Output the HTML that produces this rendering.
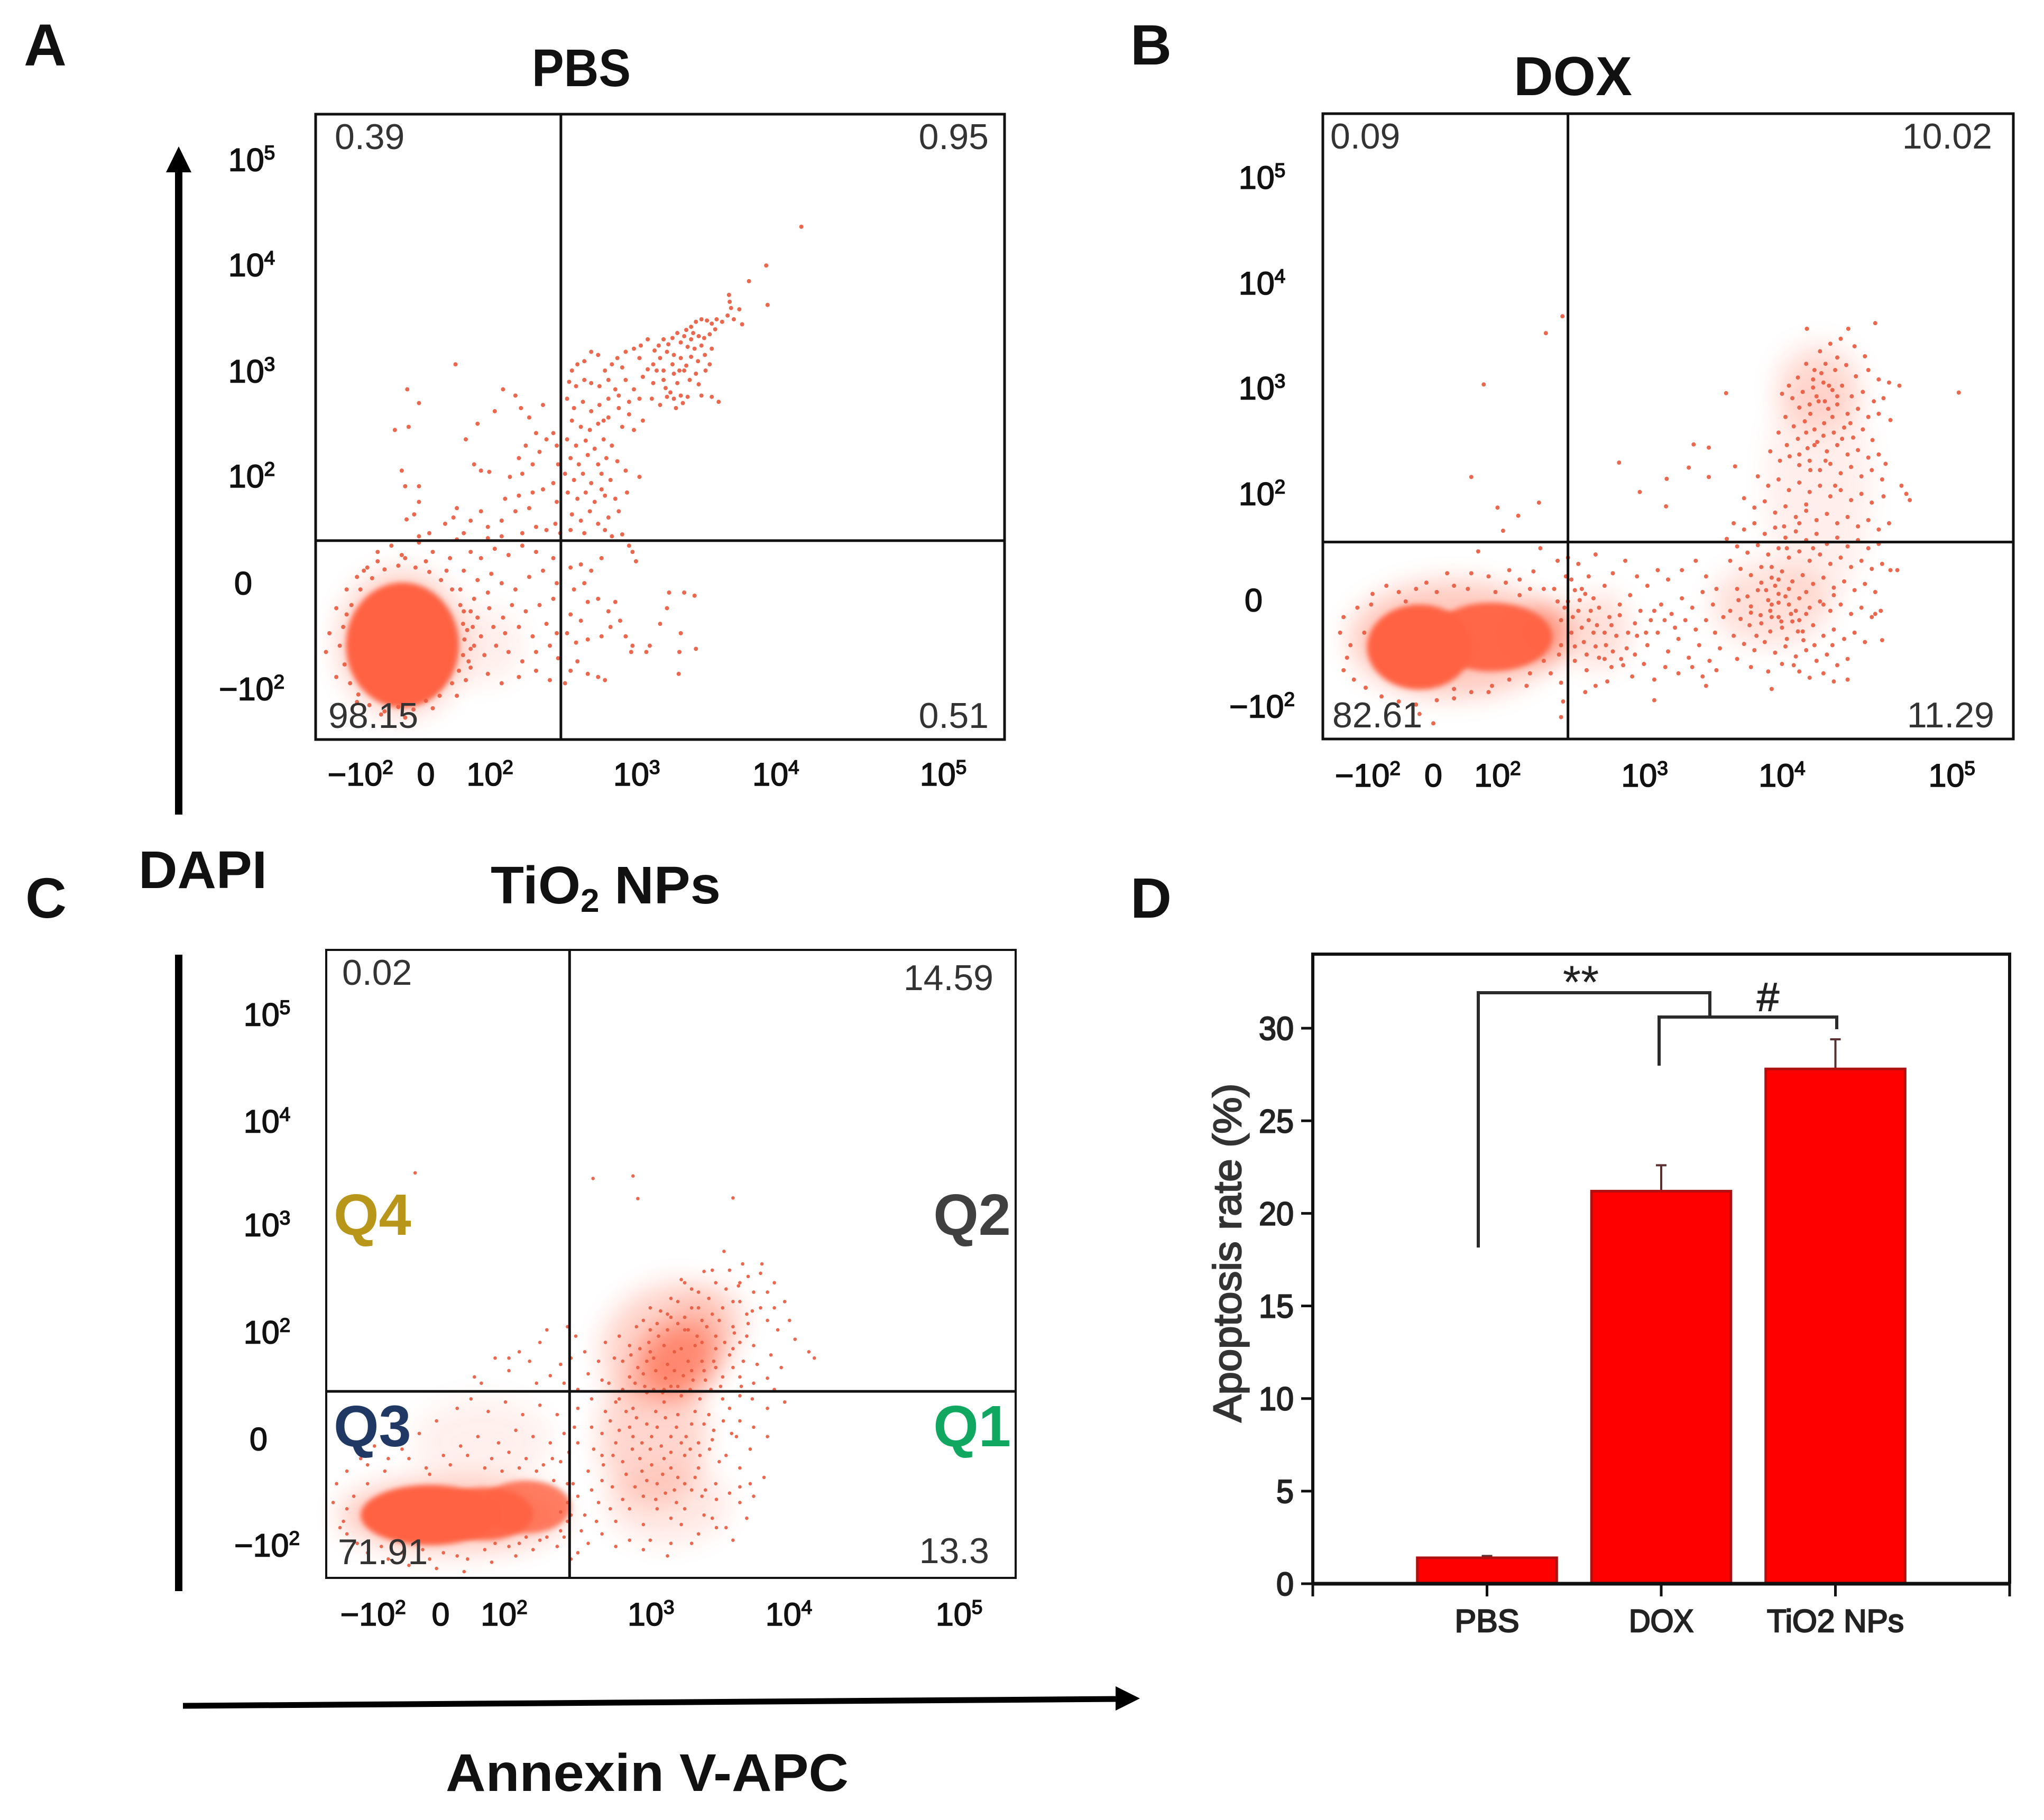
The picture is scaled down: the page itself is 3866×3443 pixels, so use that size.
<!DOCTYPE html>
<html lang="en">
<head>
<meta charset="utf-8">
<title>Flow cytometry apoptosis panels</title>
<style>
html,body{margin:0;padding:0;background:#fff}
svg{display:block}
text{font-family:"Liberation Sans",sans-serif}
</style>
</head>
<body>
<svg id="figure" xmlns="http://www.w3.org/2000/svg" width="3866" height="3443" viewBox="0 0 3866 3443">
<defs>
<filter id="soft" x="-30%" y="-30%" width="160%" height="160%"><feGaussianBlur stdDeviation="5"/></filter>
<filter id="diffuse" x="-60%" y="-60%" width="220%" height="220%"><feGaussianBlur stdDeviation="24"/></filter>
</defs>
<rect width="3866" height="3443" fill="#fff"/>
<text x="45" y="124" font-size="112" font-weight="bold" fill="#111">A</text>
<text x="2138" y="122" font-size="108" font-weight="bold" fill="#111">B</text>
<text x="48" y="1736" font-size="108" font-weight="bold" fill="#111">C</text>
<text x="2138" y="1736" font-size="108" font-weight="bold" fill="#111">D</text>
<text x="1006" y="163" font-size="100" font-weight="bold" fill="#111" textLength="187" lengthAdjust="spacingAndGlyphs">PBS</text>
<text x="2863" y="180" font-size="104" font-weight="bold" fill="#111" textLength="224" lengthAdjust="spacingAndGlyphs">DOX</text>
<text x="928" y="1709" font-size="100" font-weight="bold" fill="#111" textLength="435" lengthAdjust="spacingAndGlyphs">TiO<tspan font-size="62" dy="16">2</tspan><tspan dy="-16"> NPs</tspan></text>
<text x="262" y="1680" font-size="100" font-weight="bold" fill="#111" textLength="243" lengthAdjust="spacingAndGlyphs">DAPI</text>
<text x="843" y="3388" font-size="100" font-weight="bold" fill="#111" textLength="762" lengthAdjust="spacingAndGlyphs">Annexin V-APC</text>
<g>
<line x1="338" y1="1541" x2="338" y2="310" stroke="#000" stroke-width="14"/>
<polygon points="338,277 314,326 362,326" fill="#000"/>
</g>
<line x1="338" y1="1806" x2="338" y2="3010" stroke="#000" stroke-width="14"/>
<g>
<line x1="346" y1="3227" x2="2120" y2="3214" stroke="#000" stroke-width="11"/>
<polygon points="2156,3213 2110,3190 2110,3236" fill="#000"/>
</g>
<g id="panels"></g>
<g id="bars"></g>
<g fill="none" stroke="#2b2b2b" stroke-width="6">
<path d="M2796 2360V1878H3234V1922"/>
<path d="M3138 2016V1924H3474V1947"/>
</g>
<text x="2990" y="1888" font-size="88" text-anchor="middle" fill="#222">**</text>
<text x="3344" y="1912" font-size="76" text-anchor="middle" fill="#222" stroke="#222" stroke-width="1.5">#</text>
<text transform="translate(2347,2370) rotate(-90)" font-size="74" text-anchor="middle" fill="#333" stroke="#333" stroke-width="2.4" textLength="641" lengthAdjust="spacingAndGlyphs">Apoptosis rate (%)</text>
</svg>
<script>
// Flow panel data: event coordinates are in channel units (0-1000 on each axis).
const tickLabelsX = ['−10^2','0','10^2','10^3','10^4','10^5'];
const tickLabelsY = ['10^5','10^4','10^3','10^2','0','−10^2'];
const xTicksA = [65,160,253,466,668,911];
const yTicksA = [926,758,588,420,249,80];
const xTicksB = [65,160,253,466,665,911];
const yTicksB = [897,728,560,391,221,51];
const xTicksC = [68,166,258,471,671,918];
const yTicksC = [896,726,561,390,220,51];
const gateA = [356,318];
const gateB = [355,315];
const gateC = [353,297];
const quadValuesA = ['0.39','0.95','98.15','0.51'];
const quadValuesB = ['0.09','10.02','82.61','11.29'];
const quadValuesC = ['0.02','14.59','71.91','13.3'];
// clusters: cx, cy, rx, ry, tilt (deg), density (0-1), all in channel units
const clustersA = [[125,155,92,115,0,0.3],[240,150,60,60,0,0.1],[126,151,82,100,0,1]];
const clustersB = [[189,160,150,92,0,0.35],[399,173,45,60,0,0.2],[649,216,85,65,0,0.2],[718,406,75,190,0,0.1],[718,561,60,70,0,0.2],[320,170,40,45,0,0.6],[140,147,76,68,0,1],[244,163,88,55,0,0.95]];
const clustersC = [[183,100,165,60,0,0.32],[226,217,100,70,0,0.09],[495,118,90,62,0,0.14],[474,226,78,112,0,0.26],[495,375,100,90,-30,0.28],[560,414,50,50,0,0.15],[510,350,58,55,-30,0.65],[290,113,65,42,0,0.8],[150,100,100,48,0,1],[230,102,70,42,0,0.95]];
const eventsA = [[705,820],[654,758],[629,733],[600,711],[601,700],[603,690],[656,695],[598,678],[615,688],[619,664],[607,672],[590,668],[582,672],[575,665],[568,670],[560,672],[552,668],[545,660],[538,655],[548,650],[556,645],[564,642],[572,648],[580,656],[545,640],[535,645],[530,635],[540,628],[550,625],[560,630],[525,650],[518,642],[512,632],[505,640],[498,630],[492,622],[510,620],[520,615],[530,610],[545,612],[555,605],[565,615],[575,625],[572,600],[500,610],[490,600],[482,592],[470,610],[462,625],[472,630],[482,640],[450,620],[438,610],[445,595],[430,600],[420,590],[410,615],[400,620],[390,605],[380,600],[372,590],[368,572],[378,565],[390,575],[400,570],[412,565],[425,575],[435,560],[450,575],[462,560],[475,580],[490,570],[505,590],[520,585],[535,590],[525,570],[515,555],[520,545],[530,550],[510,548],[540,548],[560,550],[575,548],[585,540],
[528,590],[538,598],[552,585],[518,600],[505,575],[495,590],[543,575],[556,568],[566,590],[508,562],[523,530],[533,538],[500,535],[488,545],[470,545],[455,540],[440,550],[425,545],[418,510],[445,500],[462,495],[475,510],[438,445],[450,430],[470,420],[452,395],[415,400],
[365,545],[375,530],[388,540],[400,525],[412,535],[372,510],[385,500],[398,495],[410,505],[425,515],[440,530],[455,520],[365,480],[378,470],[392,478],[405,465],[418,480],[430,470],[370,450],[382,440],[395,455],[410,440],[422,450],[362,425],[375,415],[388,425],[400,410],[415,425],[428,415],[366,395],[380,385],[392,395],[405,380],[420,390],[435,385],[372,360],[385,350],[398,365],[410,345],[425,355],[440,365],[370,335],[390,330],[420,335],[445,328],[430,325],
[203,600],[133,560],[150,538],[115,495],[135,500],[125,430],[150,405],[130,405],[150,380],[132,352],[143,360],[188,345],[200,355],[205,370],[215,330],[230,440],[240,430],[252,428],[218,480],[235,505],[260,525],[272,560],[290,550],[298,530],[310,515],[330,535],[320,490],[305,470],[295,450],[315,440],[325,460],[335,480],[345,490],[350,470],[300,425],[282,420],[275,385],[295,390],[315,395],[330,400],[345,410],[352,440],[350,380],[310,370],[290,365],[270,350],[250,340],[240,365],[225,350],[300,330],[320,340],[335,335],[348,345],[355,330],[250,322],[270,325],[150,325],[165,330],
[370,275],[385,280],[400,270],[415,290],[460,300],[455,310],[465,285],[375,240],[390,250],[410,225],[425,205],[435,220],[442,190],[428,180],[395,220],[370,200],[385,190],[365,170],[378,155],[395,160],[415,165],[450,165],[460,150],[458,140],[480,140],[485,150],[500,185],[510,210],[513,235],[535,235],[550,230],[530,170],[528,140],[552,145],[527,105],[380,125],[395,105],[410,100],[420,95],[370,110],[362,90],
[205,320],[225,300],[240,290],[260,305],[280,295],[300,310],[320,300],[345,290],[215,270],[235,255],[255,265],[210,240],[230,225],[250,235],[270,250],[290,240],[310,260],[330,270],[350,250],[215,205],[235,195],[252,210],[272,195],[285,215],[305,205],[325,215],[345,225],[220,175],[240,165],[258,180],[275,170],[295,180],[315,165],[335,185],[350,170],[225,145],[245,135],[262,150],[280,140],[300,125],[320,140],[340,150],[352,130],[225,115],[250,105],[270,90],[295,100],[320,110],[340,95],
[20,170],[15,140],[30,210],[45,240],[70,270],[90,300],[110,310],[130,290],[150,315],[170,300],[190,270],[60,60],[95,40],[130,35],[170,50],[205,70],[30,100],
[40,180],[35,150],[42,120],[50,90],[62,72],[78,55],[100,45],[120,52],[142,48],[160,62],[180,70],[198,90],[208,110],[214,135],[216,160],[214,185],[210,215],[198,240],[182,255],[165,268],[145,275],[120,278],[100,272],[82,258],[65,240],[52,215],[45,200],[90,285],[125,295],[160,285],[195,290],[75,275],[60,260],[225,205],[228,180],[230,150],[222,125],[218,95]];
const eventsB = [[701,656],[800,665],[761,656],[921,554],[584,553],[347,676],[323,649],[233,567],[215,419],[253,370],[313,378],[283,357],[261,333],[429,442],[459,395],[498,416],[497,372],[530,434],[537,471],[559,466],[559,419],[597,436],
[750,640],[735,632],[720,620],[770,628],[785,612],[745,610],[700,600],[712,590],[728,600],[742,590],[758,598],[772,580],[790,590],[805,575],[820,570],[835,565],[688,578],[675,565],[665,552],[680,545],[695,555],[710,562],[725,570],[738,558],[752,565],[766,548],[782,555],[798,540],[812,545],[690,530],[705,535],[718,540],[732,528],[745,535],[760,520],[775,528],[790,515],[805,520],[822,510],[670,515],[682,500],[698,508],[712,495],[726,505],[740,490],[755,498],[768,482],[782,495],[796,478],[660,490],[672,470],[688,480],[702,465],[716,475],[730,460],[745,470],[760,455],[775,462],[790,450],[805,455],[815,440],[648,460],[662,445],[676,452],[690,438],[705,445],[720,430],[735,440],[750,425],[765,435],[780,420],[795,430],[810,415],[630,420],[645,405],[660,415],[675,398],[690,410],[705,395],[720,405],[735,388],[750,398],[765,382],[780,392],[795,378],[812,388],[838,405],[845,392],[850,382],[610,385],[625,370],[640,380],[655,362],[670,372],[685,355],[700,365],[715,350],[730,360],[745,345],[760,355],[775,340],[790,350],[805,335],[820,345],[595,345],[610,335],[625,345],[640,328],[655,338],[670,322],[685,332],[700,318],[715,328],[730,312],[745,322],[760,308],[775,318],[790,305],[805,312],[585,320],[600,308],[615,298],[630,310],[645,295],[660,305],[675,290],[690,300],[705,285],[720,295],[735,280],[750,290],[765,275],[780,285],[795,272],[810,280],[822,270],[832,270],[590,285],[605,272],[620,262],[635,275],[650,258],[665,268],[680,252],[695,262],[710,248],[725,258],[740,242],[755,252],[770,238],[785,248],[800,235],[600,240],[615,228],[630,238],[645,222],[660,232],[675,215],[690,225],[705,210],[720,220],[735,205],[750,215],[765,200],[780,210],[795,195],[808,205],[590,205],[605,192],[620,202],[635,185],[650,195],[665,178],[680,188],[695,172],[710,182],[725,165],[740,175],[755,160],[770,170],[785,155],[800,200],[810,158],[595,165],[610,152],[625,142],[640,155],[655,138],[670,148],[685,132],[700,142],[715,125],[730,135],[745,118],[760,128],[600,128],[620,115],[645,108],[665,120],[690,108],[705,98],[725,105],[740,92],[650,80],[555,85],[760,95],[740,230],[700,235],[675,240],[660,255],[725,215],[685,205],[660,195],[650,215],[690,190],
[710,575],[722,585],[733,565],[715,548],[706,520],[727,540],[745,548],[700,490],[712,470],[725,485],[738,515],[752,480],[764,505],[690,455],[706,430],[728,445],[742,405],[700,375],[668,340],[690,345],[710,305],[672,305],[650,275],[635,250],[620,212],[655,245],[642,238],[670,228],[660,218],[634,198],[648,205],[678,200],[700,200],[664,188],[618,182],[602,222],[688,172],[672,160],[712,150],[648,172],[628,165],[696,158],[738,150],[682,118],
[355,290],[370,280],[385,260],[395,295],[360,255],[375,240],[392,225],[408,245],[420,265],[438,285],[455,260],[470,245],[485,270],[500,255],[520,270],[540,285],[555,260],[570,240],[355,220],[370,205],[385,190],[400,210],[415,195],[430,215],[445,230],[460,205],[475,190],[490,215],[505,200],[520,225],[535,210],[550,235],[565,215],[580,195],[360,170],[378,155],[392,170],[410,150],[425,165],[440,145],[455,165],[470,150],[485,170],[500,140],[515,160],[530,130],[545,150],[560,125],[575,145],[365,125],[382,110],[400,130],[418,115],[432,128],[448,100],[465,120],[480,95],[496,115],[515,105],[535,115],[550,100],[570,110],[395,85],[380,75],[412,92],[480,62],[348,60],[345,35],[160,25],[140,40],[60,170],[40,150],[35,130],[70,215],[120,220],[150,250],[180,265],[225,300],[270,270],[285,255],[315,305],[340,285],[335,240],[300,240],[250,235],[210,240],[330,105],[295,85],[240,75],[190,80],[345,90],
[365,238],[372,222],[380,232],[362,195],[375,178],[388,205],[397,182],[408,170],[418,182],[430,198],[442,170],[452,185],[365,148],[382,135],[395,148],[408,128],[420,140],[435,118],[452,135],[468,170],[480,205],[495,190],[510,178],[525,190],[540,175],[555,190],[568,170],[50,210],[72,232],[92,245],[110,235],[135,240],[165,235],[190,245],[215,265],[240,260],[265,250],[285,230],[305,268],[320,240],[340,220],[345,190],[30,110],[45,95],[62,82],[85,68],[110,60],[135,55],[165,62],[190,65],[215,75],[245,85],[270,95],[300,105],[320,125],[342,135],[352,260],[350,210],[345,150],[25,170],[30,195]];
const eventsC = [[129,645],[387,636],[452,604],[445,640],[590,605],[577,520],[604,500],[630,485],[650,470],[640,455],[665,440],[672,410],[655,395],[680,380],[700,360],[708,350],[632,500],[612,480],[598,465],[585,490],[565,470],[548,488],[530,460],[515,475],[500,445],[530,430],[555,445],[575,430],[600,440],[618,425],[640,410],[612,405],[590,400],[570,410],[545,410],[520,415],[495,420],[470,430],[450,400],[470,395],[440,370],[425,385],[405,375],[418,350],[395,345],[380,325],[400,315],[375,360],[362,385],[350,400],[320,395],[310,375],[295,345],[280,360],[265,350],[245,350],[215,320],[265,330],[225,310],[340,340],[325,322],[305,310],[345,310],[620,370],[600,375],[585,355],[605,345],[625,340],[645,355],[660,335],[640,318],[620,310],[600,320],[650,300],[665,280],[640,270],[618,285],[600,290],[585,270],[600,250],[620,240],[640,225],[615,205],[595,225],[580,195],[600,175],[615,150],[635,160],[620,130],[600,120],[610,95],[580,80],[560,95],[540,70],[515,85],[500,55],[520,110],[545,130],[565,150],[540,175],[520,195],[500,175],[480,150],[460,130],[440,110],[420,90],[400,70],[380,55],[365,40],[375,100],[395,120],[415,145],[435,165],[455,190],[380,170],[400,195],[420,215],[440,240],[365,215],[385,240],[405,265],[425,285],[365,270],[385,285],[410,310],[445,270],[465,295],[490,280],[510,260],[530,245],[555,260],[575,285],[560,220],[540,215],[480,240],[500,225],[470,205],[490,190],[510,160],[530,140],[480,110],[460,85],[500,95],[440,60],[420,50],[470,60],
[10,120],[20,80],[15,150],[30,170],[50,190],[70,210],[60,40],[90,30],[120,20],[160,15],[200,10],[240,25],[275,35],[300,45],[335,50],[60,150],[85,170],[110,205],[135,230],[160,250],[190,270],[210,285],[235,265],[260,280],[285,260],[310,275],[335,260],[345,230],[325,215],[300,225],[275,235],[250,215],[220,225],[195,210],[170,195],[145,175],[240,190],[265,200],[290,190],[315,180],[340,185],[350,150],[330,155],[310,60],[290,65],[265,50],[230,45],[190,35],[150,30],[350,120],[350,90],[345,65],[355,30],[352,200],[360,240],[365,300],[355,350],[358,150],[365,130],
[440,320],[452,335],[465,345],[478,330],[492,318],[505,330],[518,322],[532,315],[548,330],[562,345],[575,320],[590,335],[602,305],[448,310],[462,305],[475,300],[488,295],[500,305],[515,290],[528,300],[542,285],[558,300],[572,305],[430,345],[442,355],[455,365],[468,375],[482,385],[495,395],[510,405],[525,395],[538,385],[552,400],[565,385],[578,375],[592,390],[430,300],[420,280],[435,265],[450,255],[465,245],[478,265],[492,255],[508,240],[522,225],[535,265],[548,245],[562,235],[576,250],[588,230],[445,225],[458,215],[472,225],[486,210],[500,200],[515,215],[528,205],[542,195],[556,205],[570,185],[400,230],[412,250],[425,235],[388,205],[402,180],[416,195],[430,185],[444,205],[458,170],[472,180],[488,165],[505,140],[520,150],[535,160],[550,140],[566,125],[585,135],[600,145],[448,145],[465,155],[478,125],[492,135],[508,120],[400,155],[385,140],[370,75],[392,90],[412,110],[430,125],[548,100],[566,80],[590,60],[530,55],[460,45],[495,35],[520,470],[540,455],[560,490],[580,460],[600,470],[620,455],[590,440],[610,420],[630,430],[650,430],[560,420],[540,430],[510,440],[485,425],[460,410],[480,405],[500,415],[520,395],[545,375],[565,365],[590,365],[610,385],[490,370],[470,360],[505,360],[525,345],[545,345],[565,335],[460,325],[475,350],[495,340],[515,365],[535,370],[510,305],[530,330],[550,315],[490,300],
[60,180],[90,190],[120,190],[150,165],[180,180],[205,195],[230,175],[255,170],[280,175],[305,170],[328,190],[40,130],[30,110],[25,90],[30,70],[45,55],[80,50],[110,40],[140,45],[170,40],[205,30],[245,55],[280,55],[320,65],[340,75],[355,100],[340,105]];
const panelsCfg = [
 {id:'a',left:597,top:216,right:1900,bottom:1399,xT:xTicksA,yT:yTicksA,gate:gateA,quad:quadValuesA,clusters:clustersA,events:eventsA,labelOff:121,xLabelOff:65,stroke:5,r:4,qx:[36,30,24,30],qy:[66,66,-22,-22]},
 {id:'b',left:2502,top:215,right:3808,bottom:1398,xT:xTicksB,yT:yTicksB,gate:gateB,quad:quadValuesB,clusters:clustersB,events:eventsB,labelOff:115,xLabelOff:68,stroke:5,r:4,qx:[14,40,18,36],qy:[66,66,-22,-22]},
 {id:'c',left:617,top:1797,right:1921,bottom:2985,xT:xTicksC,yT:yTicksC,gate:gateC,quad:quadValuesC,clusters:clustersC,events:eventsC,labelOff:112,xLabelOff:68,stroke:4,r:3.3,qx:[30,42,22,50],qy:[66,76,-26,-28]}
];
// Bar chart data
const categories = ['PBS','DOX','TiO2 NPs'];
const rates = [1.4,21.2,27.8];
const rateErrors = [0.1,1.4,1.6];
const rateTicks = [0,5,10,15,20,25,30];

const NS = 'http://www.w3.org/2000/svg';
function mk(tag, parent, attrs){
  const el = document.createElementNS(NS, tag);
  for (const k in attrs) el.setAttribute(k, attrs[k]);
  parent.appendChild(el);
  return el;
}
function tickText(parent, x, y, label, name){
  const el = mk('text', parent, {x:x, y:y, 'font-size':61, 'text-anchor':'middle', fill:'#111', stroke:'#111', 'stroke-width':1.6});
  
  
  const parts = label.split('^');
  el.appendChild(document.createTextNode(parts[0]));
  if (parts[1]) {
    const sup = mk('tspan', el, {'font-size':37, dy:-22});
    sup.textContent = parts[1];
  }
  return el;
}
function drawPanel(p){
  const root = document.getElementById('panels');
  const g = mk('g', root, {});
  
  
  const sx = (p.right - p.left) / 1000, sy = (p.bottom - p.top) / 1000;
  const X = function(ch){ return p.left + ch * sx; };
  const Y = function(ch){ return p.bottom - ch * sy; };
  p.clusters.forEach(function(c){
    const e = mk('ellipse', g, {cx:X(c[0]), cy:Y(c[1]), rx:c[2]*sx, ry:c[3]*sy, fill:'#ff6243', opacity:c[5], filter:c[5] >= 0.7 ? 'url(#soft)' : 'url(#diffuse)', transform:'rotate(' + c[4] + ' ' + X(c[0]) + ' ' + Y(c[1]) + ')'});
    
    
  });
  p.events.forEach(function(pt){
    const d = mk('circle', g, {cx:X(pt[0]), cy:Y(pt[1]), r:p.r, fill:'#e9583c', opacity:0.9});
    
    
  });
  const box = mk('rect', g, {x:p.left, y:p.top, width:p.right-p.left, height:p.bottom-p.top, fill:'none', stroke:'#111', 'stroke-width':p.stroke});
  
  
  const gv = mk('line', g, {x1:X(p.gate[0]), x2:X(p.gate[0]), y1:p.top, y2:p.bottom, stroke:'#111', 'stroke-width':5});
  
  
  const gh = mk('line', g, {x1:p.left, x2:p.right, y1:Y(p.gate[1]), y2:Y(p.gate[1]), stroke:'#111', 'stroke-width':5});
  
  
  p.xT.forEach(function(t, i){
    tickText(g, X(t), p.bottom + p.xLabelOff + 22, tickLabelsX[i], 'x-tick-label');
  });
  p.yT.forEach(function(t, i){
    tickText(g, p.left - p.labelOff - (tickLabelsY[i] === '0' ? 16 : 0), Y(t) + 20, tickLabelsY[i], 'y-tick-label');
  });
  const qx = [p.left + p.qx[0], p.right - p.qx[1], p.left + p.qx[2], p.right - p.qx[3]];
  const qy = [p.top + p.qy[0], p.top + p.qy[1], p.bottom + p.qy[2], p.bottom + p.qy[3]];
  const qa = ['start','end','start','end'];
  p.quad.forEach(function(v, i){
    const q = mk('text', g, {x:qx[i], y:qy[i], 'font-size':68, 'text-anchor':qa[i], fill:'#333'});
    
    
    q.textContent = v;
  });
}
panelsCfg.forEach(drawPanel);

(function drawQLabels(){
  const root = document.getElementById('panels');
  const items = [['Q4',631,2336,'#b8961a','start'],['Q2',1912,2336,'#404040','end'],['Q3',631,2736,'#1f3864','start'],['Q1',1912,2736,'#10a860','end']];
  items.forEach(function(it){
    const t = mk('text', root, {x:it[1], y:it[2], 'font-size':110, 'font-weight':'bold', fill:it[3], 'text-anchor':it[4]});
    
    
    t.textContent = it[0];
  });
})();

(function drawBars(){
  const g = document.getElementById('bars');
  const left = 2483, right = 3801, top = 1805, base = 2996, yMax = 34;
  const xCat = function(i){ return left + (i + 1) / (categories.length + 1) * (right - left); };
  const yVal = function(v){ return base - v / yMax * (base - top); };
  const barW = 0.8 * (right - left) / (categories.length + 1);
  rates.forEach(function(v, i){
    const err = mk('path', g, {d:'M' + xCat(i) + ' ' + yVal(v) + 'V' + yVal(v + rateErrors[i]) + 'm-10 0h20', fill:'none', stroke:'#5a3030', 'stroke-width':4});
    
    
    const b = mk('rect', g, {x:xCat(i) - barW / 2, y:yVal(v), width:barW, height:base - yVal(v), fill:'#ff0000', stroke:'#b01010', 'stroke-width':5});
    
    
    const l = mk('text', g, {x:xCat(i), y:3087, 'font-size':60, 'text-anchor':'middle', fill:'#222', stroke:'#222', 'stroke-width':2.4});
    
    
    l.setAttribute('textLength', i === 2 ? 259 : 122);
    l.setAttribute('lengthAdjust', 'spacingAndGlyphs');
    l.textContent = categories[i];
  });
  const frame = mk('path', g, {d:'M' + left + ' ' + base + 'V' + top + 'H' + right + 'V' + base, fill:'none', stroke:'#111', 'stroke-width':6});
  
  
  const axis = mk('line', g, {x1:left, x2:right, y1:base, y2:base, stroke:'#111', 'stroke-width':7});
  
  
  for (let i = -1; i <= categories.length; i++) {
    const tk = mk('line', g, {x1:xCat(i), x2:xCat(i), y1:base, y2:base + 24, stroke:'#111', 'stroke-width':5});
    
    
  }
  rateTicks.forEach(function(v){
    const tk = mk('line', g, {x1:left - 22, x2:left, y1:yVal(v), y2:yVal(v), stroke:'#111', 'stroke-width':5});
    
    
    const t = mk('text', g, {x:2447, y:yVal(v) + 22, 'font-size':62, 'text-anchor':'end', fill:'#222', stroke:'#222', 'stroke-width':2.2, textLength:v >= 10 ? 66 : 33, lengthAdjust:'spacingAndGlyphs'});
    
    
    t.textContent = v;
  });
})();
</script>
</body>
</html>
